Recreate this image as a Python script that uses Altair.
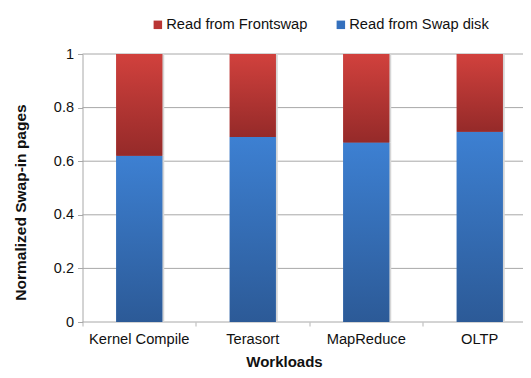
import altair as alt
import pandas as pd

workloads = ["Kernel Compile", "Terasort", "MapReduce", "OLTP"]
swap_disk = [0.62, 0.69, 0.67, 0.71]
frontswap = [0.38, 0.31, 0.33, 0.29]
series_names = ["Read from Frontswap", "Read from Swap disk"]
y_ticks = [0, 0.2, 0.4, 0.6, 0.8, 1.0]

rows = []
for w, d, f in zip(workloads, swap_disk, frontswap):
    rows.append({"workload": w, "series": series_names[1], "value": d, "order": 0})
    rows.append({"workload": w, "series": series_names[0], "value": f, "order": 1})
df = pd.DataFrame(rows)
grid_df = pd.DataFrame({"t": y_ticks})

FONT = "Liberation Sans"
RED_TOP, RED_BOT = "#d1413d", "#952a29"
BLUE_TOP, BLUE_BOT = "#3d80d2", "#2c5a97"
AXIS_GRAY = "#a8a8a8"

base = alt.Chart(df).transform_stack(
    stack="value", groupby=["workload"], as_=["y0", "y1"],
    sort=[alt.SortField("order", order="ascending")]
)

x_enc = alt.X(
    "workload:N", sort=workloads, title="Workloads",
    scale=alt.Scale(range=[0, 454], paddingInner=0, paddingOuter=0),
    axis=alt.Axis(labelAngle=0, bandPosition=0, tickSize=4, labelPadding=5,
                  domain=False, tickColor="#b5b5b5", titlePadding=9,
                  labelFontSize=14.7, titleFontSize=15, titleFontWeight="bold",
                  labelColor="#111", titleColor="#111", grid=False,
                  titleX=201.5, titleAlign="center"),
)


def y_enc(field):
    return alt.Y(
        field, title="Normalized  Swap-in pages",
        scale=alt.Scale(domain=[0, 1], nice=False),
        axis=alt.Axis(values=y_ticks, format="~g", tickSize=5, labelPadding=4,
                      domainColor=AXIS_GRAY, tickColor=AXIS_GRAY, grid=False,
                      labelFontSize=14.5, titleFontSize=15.5, titleFontWeight="bold",
                      labelColor="#111", titleColor="#111",
                      titleAngle=270, titleX=-62, titleY=148, titleAlign="center",
                      titleBaseline="middle"),
    )


grid = alt.Chart(grid_df).mark_rule(color=AXIS_GRAY, strokeWidth=1).encode(
    y=y_enc("t:Q"), x=alt.value(0), x2=alt.value(440.5)
)

shadow = base.mark_bar(size=46, color="#d6d6d6", xOffset=2).encode(
    x=x_enc, y=y_enc("y0:Q"), y2="y1:Q"
)

legend_layer = base.mark_bar(size=46).encode(
    x=x_enc, y=y_enc("y0:Q"), y2="y1:Q",
    color=alt.Color(
        "series:N",
        scale=alt.Scale(domain=series_names, range=["#b93534", "#3470bd"]),
        legend=alt.Legend(
            title=None, orient="none", legendX=68, legendY=-37,
            direction="horizontal", columns=2, columnPadding=26,
            symbolType="square", symbolSize=72, symbolStrokeWidth=0,
            labelFontSize=14.7, labelFont=FONT, labelColor="#111",
            labelOffset=1, padding=0,
        ),
    ),
)


def grad(top, bot):
    return alt.LinearGradient(
        gradient="linear", x1=0, y1=0, x2=0, y2=1,
        stops=[alt.GradientStop(offset=0, color=top),
               alt.GradientStop(offset=1, color=bot)],
    )


red_layer = base.transform_filter(
    alt.datum.series == series_names[0]
).mark_bar(size=46, color=grad(RED_TOP, RED_BOT)).encode(
    x=x_enc, y=y_enc("y0:Q"), y2="y1:Q"
)
blue_layer = base.transform_filter(
    alt.datum.series == series_names[1]
).mark_bar(size=46, color=grad(BLUE_TOP, BLUE_BOT)).encode(
    x=x_enc, y=y_enc("y0:Q"), y2="y1:Q"
)

chart = alt.layer(grid, shadow, legend_layer, blue_layer, red_layer).properties(
    width=440.5, height=268,
    autosize=alt.AutoSizeParams(type="none"),
    padding={"left": 74.5, "top": 46, "right": 0, "bottom": 47},
).configure(
    font=FONT,
).configure_view(
    stroke=None
)

chart.save("out.html", embed_options={"renderer": "svg", "actions": False})
